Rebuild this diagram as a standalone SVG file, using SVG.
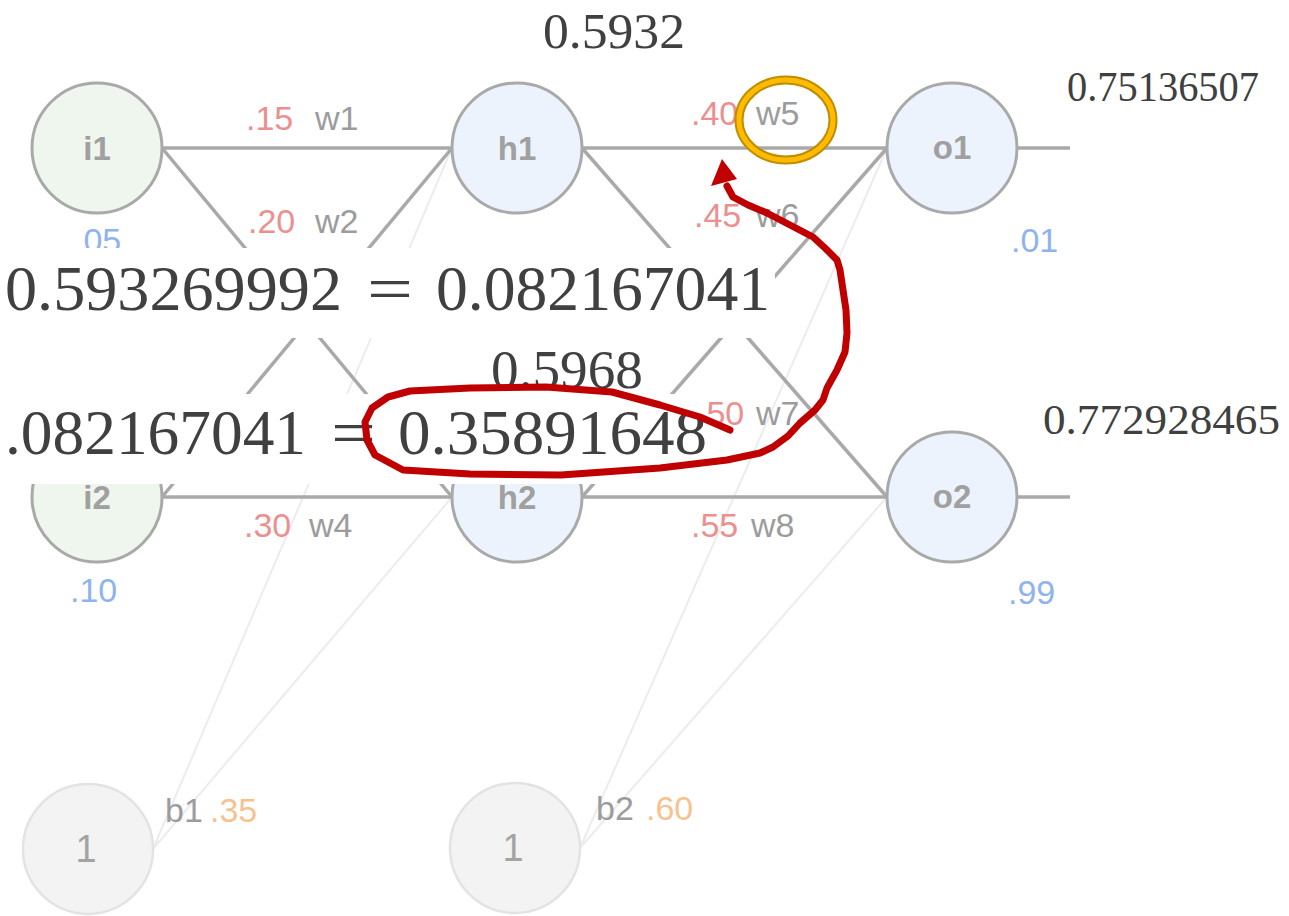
<svg xmlns="http://www.w3.org/2000/svg" width="1289" height="916" viewBox="0 0 1289 916">
<defs>
<style>
.edge{stroke:#a9a9a9;stroke-width:3.5;fill:none}
.bedge{stroke:#ececec;stroke-width:2;fill:none}
.nin{fill:#eff6ee;stroke:#a9a9a9;stroke-width:3}
.nhid{fill:#edf3fc;stroke:#a9a9a9;stroke-width:3}
.nbias{fill:#f3f3f3;stroke:#e3e3e3;stroke-width:2.5}
.nl{font-family:"Liberation Sans",Arial,sans-serif;font-weight:bold;font-size:33px;fill:#a0a0a0;text-anchor:middle}
.bl{font-family:"Liberation Sans",Arial,sans-serif;font-size:38px;fill:#a3a3a3;text-anchor:middle}
.wv{font-family:"Liberation Sans",Arial,sans-serif;font-size:34px;fill:#ec8f8f}
.wn{font-family:"Liberation Sans",Arial,sans-serif;font-size:34px;fill:#9c9c9c}
.iv{font-family:"Liberation Sans",Arial,sans-serif;font-size:34px;fill:#8fb3ef}
.bv{font-family:"Liberation Sans",Arial,sans-serif;font-size:34px;fill:#f5c38f}
.m{font-family:"Liberation Serif","Times New Roman",serif;fill:#404040}
.band{fill:#ffffff}
.red{stroke:#c00000;stroke-width:7;fill:none;stroke-linecap:round;stroke-linejoin:round}
</style>
</defs>
<rect width="1289" height="916" fill="#ffffff"/>

<g id="connectors">
  <line class="bedge" x1="153" y1="849" x2="452" y2="148"/>
  <line class="bedge" x1="153" y1="849" x2="452" y2="497"/>
  <line class="bedge" x1="580" y1="848" x2="887" y2="148"/>
  <line class="bedge" x1="580" y1="848" x2="887" y2="497"/>
  <line class="edge" x1="162" y1="148" x2="452" y2="148"/>
  <line class="edge" x1="162" y1="148" x2="452" y2="497"/>
  <line class="edge" x1="162" y1="497" x2="452" y2="148"/>
  <line class="edge" x1="162" y1="497" x2="452" y2="497"/>
  <line class="edge" x1="582" y1="148" x2="887" y2="148"/>
  <line class="edge" x1="582" y1="148" x2="887" y2="497"/>
  <line class="edge" x1="582" y1="497" x2="887" y2="148"/>
  <line class="edge" x1="582" y1="497" x2="887" y2="497"/>
  <line class="edge" x1="1017" y1="148" x2="1070" y2="148"/>
  <line class="edge" x1="1017" y1="497" x2="1070" y2="497"/>
</g>

<g id="node-i1"><circle class="nin" cx="97" cy="148" r="65"/><text class="nl" x="97" y="160">i1</text></g>
<g id="node-i2"><circle class="nin" cx="97" cy="497" r="65"/><text class="nl" x="97" y="509">i2</text></g>
<g id="node-h1"><circle class="nhid" cx="517" cy="148" r="65"/><text class="nl" x="517" y="160">h1</text></g>
<g id="node-h2"><circle class="nhid" cx="517" cy="497" r="65"/><text class="nl" x="517" y="509">h2</text></g>
<g id="node-o1"><circle class="nhid" cx="952" cy="148" r="65"/><text class="nl" x="952" y="159">o1</text></g>
<g id="node-o2"><circle class="nhid" cx="952" cy="497" r="65"/><text class="nl" x="952" y="508">o2</text></g>
<g id="node-b1"><circle class="nbias" cx="88" cy="849" r="65"/><text class="bl" x="86" y="862">1</text><text class="wn" x="165" y="822">b1</text><text class="bv" x="210" y="822">.35</text></g>
<g id="node-b2"><circle class="nbias" cx="515" cy="848" r="65"/><text class="bl" x="513" y="861">1</text><text class="wn" x="596" y="820">b2</text><text class="bv" x="646" y="820">.60</text></g>

<g id="labels">
  <text class="wv" x="246" y="130">.15</text><text class="wn" x="315" y="130">w1</text>
  <text class="wv" x="248" y="233">.20</text><text class="wn" x="315" y="233">w2</text>
  <text class="wv" x="247" y="418">.25</text><text class="wn" x="316" y="418">w3</text>
  <text class="wv" x="244" y="537">.30</text><text class="wn" x="309" y="537">w4</text>
  <text class="wv" x="691" y="125">.40</text><text class="wn" x="756" y="125">w5</text>
  <text class="wv" x="694" y="227">.45</text><text class="wn" x="756" y="227">w6</text>
  <text class="wv" x="697" y="425">.50</text><text class="wn" x="756" y="425">w7</text>
  <text class="wv" x="691" y="537">.55</text><text class="wn" x="751" y="537">w8</text>
  <text class="iv" x="74" y="252">.05</text>
  <text class="iv" x="70" y="602">.10</text>
  <text class="iv" x="1011" y="252">.01</text>
  <text class="iv" x="1008" y="604">.99</text>
</g>

<g id="values">
  <text class="m" x="543" y="48" font-size="50" textLength="142" lengthAdjust="spacingAndGlyphs">0.5932</text>
  <text class="m" x="1067" y="101" font-size="42" textLength="192" lengthAdjust="spacingAndGlyphs">0.75136507</text>
  <text class="m" x="1043" y="434" font-size="43" textLength="237" lengthAdjust="spacingAndGlyphs">0.772928465</text>
  <text class="m" x="491" y="388" font-size="54" textLength="152" lengthAdjust="spacingAndGlyphs">0.5968</text>
</g>

<g id="equation-1">
  <rect class="band" x="0" y="248" width="775" height="90"/>
  <text class="m" x="5" y="310" font-size="64" textLength="337" lengthAdjust="spacingAndGlyphs">0.593269992</text>
  <text class="m" x="367" y="310" font-size="64" textLength="46" lengthAdjust="spacingAndGlyphs">=</text>
  <text class="m" x="436" y="310" font-size="64" textLength="334" lengthAdjust="spacingAndGlyphs">0.082167041</text>
</g>

<g id="equation-2">
  <rect class="band" x="0" y="394" width="705" height="90"/>
  <text class="m" x="5" y="454" font-size="64" textLength="301" lengthAdjust="spacingAndGlyphs">.082167041</text>
  <text class="m" x="331" y="454" font-size="64" textLength="45" lengthAdjust="spacingAndGlyphs">=</text>
  <text class="m" x="398" y="454" font-size="64" textLength="309" lengthAdjust="spacingAndGlyphs">0.35891648</text>
</g>

<g id="annotation-arrow">
  <polyline class="red" points="730,430 700,417 660,405 612,392 546,387 470,388 410,391 388,397 372,408 365,422 367,440 375,455 403,470 470,474 561,475 660,468 727,460 760,453 773,447 788,436 800,423 815,410 823,400 827,388 837,370 845,352 847,333 846,310 843,290 840,270 837,260 825,248 813,237 790,225 767,213 748,205 733,197 727,186"/>
  <polygon points="722,159 711,186 737,179" fill="#c00000"/>
</g>

<g id="highlight-w5">
  <ellipse cx="786" cy="120" rx="47" ry="40" fill="none" stroke="#c08c00" stroke-width="9"/>
  <ellipse cx="786" cy="120" rx="47" ry="40" fill="none" stroke="#ffbb00" stroke-width="5"/>
</g>
</svg>
